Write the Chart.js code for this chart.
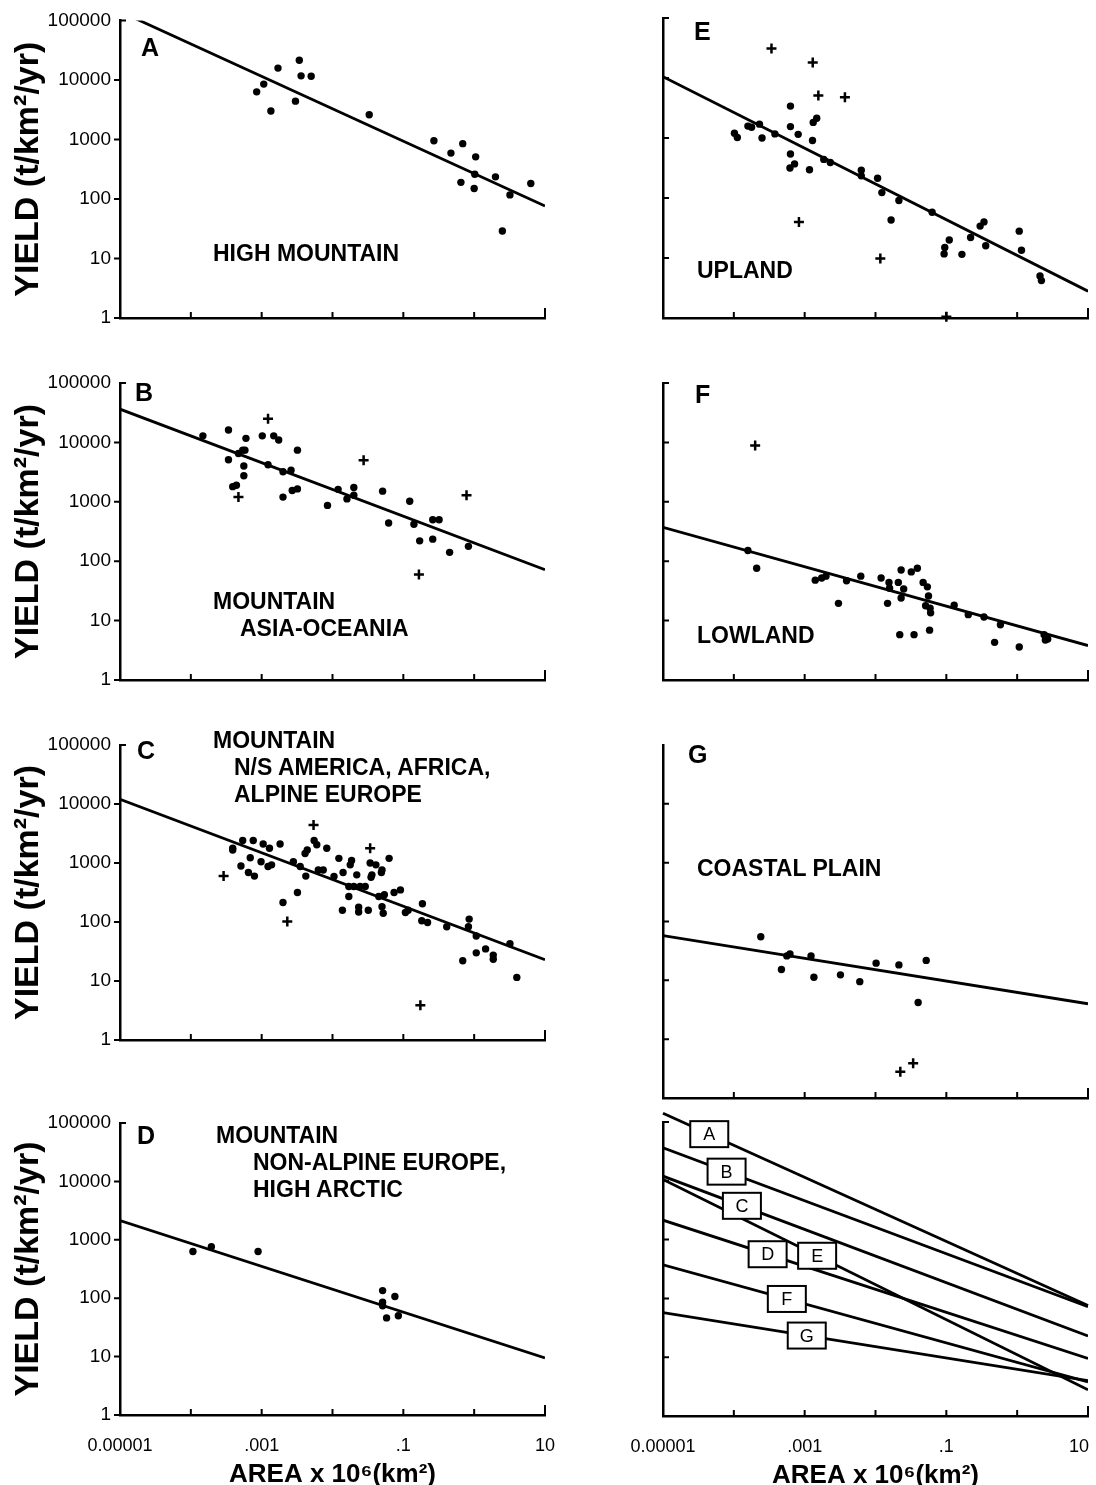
<!DOCTYPE html>
<html>
<head>
<meta charset="utf-8">
<script src="https://cdn.jsdelivr.net/npm/chart.js@4.4.1/dist/chart.umd.min.js"></script>
<style>
body { margin: 0; background: #fff; width: 1096px; height: 1485px; overflow: hidden; position: relative; }
canvas { position: absolute; left: 0; top: 0; }
.t { position: absolute; font-family: "Liberation Sans", Arial, sans-serif; font-weight: bold; font-size: 23px; line-height: 22px; white-space: nowrap; color: #000; }
.k { font-size: 25px; }
</style>
</head>
<body>
<canvas id="cA" width="1160" height="1500"></canvas>
<canvas id="cB" width="1160" height="1500"></canvas>
<canvas id="cC" width="1160" height="1500"></canvas>
<canvas id="cD" width="1160" height="1500"></canvas>
<canvas id="cE" width="1160" height="1500"></canvas>
<canvas id="cF" width="1160" height="1500"></canvas>
<canvas id="cG" width="1160" height="1500"></canvas>
<canvas id="cS" width="1160" height="1500"></canvas>

<div class="t k" style="left:141px;top:36px">A</div>
<div class="t k" style="left:135px;top:381px">B</div>
<div class="t k" style="left:137px;top:739px">C</div>
<div class="t k" style="left:137px;top:1124px">D</div>
<div class="t k" style="left:694px;top:20px">E</div>
<div class="t k" style="left:695px;top:383px">F</div>
<div class="t k" style="left:688px;top:743px">G</div>

<div class="t" style="left:213px;top:242px">HIGH MOUNTAIN</div>
<div class="t" style="left:213px;top:590px">MOUNTAIN</div>
<div class="t" style="left:240px;top:617px">ASIA-OCEANIA</div>
<div class="t" style="left:213px;top:729px">MOUNTAIN</div>
<div class="t" style="left:234px;top:756px">N/S AMERICA, AFRICA,</div>
<div class="t" style="left:234px;top:783px">ALPINE EUROPE</div>
<div class="t" style="left:216px;top:1124px">MOUNTAIN</div>
<div class="t" style="left:253px;top:1151px">NON-ALPINE EUROPE,</div>
<div class="t" style="left:253px;top:1178px">HIGH ARCTIC</div>
<div class="t" style="left:697px;top:259px">UPLAND</div>
<div class="t" style="left:697px;top:624px">LOWLAND</div>
<div class="t" style="left:697px;top:857px">COASTAL PLAIN</div>

<script>
// axis ticks
var areaTicks = [0.00001, 0.0001, 0.001, 0.01, 0.1, 1, 10];
var areaTickLabels = ['0.00001', '', '.001', '', '.1', '', '10'];
// right-hand panel: last label pulled in from the page edge
var areaTickLabelsRight = ['0.00001', '', '.001', '', '.1', '', '10\u2002\u2002'];
var yieldTicks = [1, 10, 100, 1000, 10000, 100000];
var yieldTickLabels = ['1', '10', '100', '1000', '10000', '100000'];
var yieldTicksG = [0.1, 1, 10, 100, 1000, 10000, 100000];

// fitted lines: yield at area 0.00001 and at area 10
var lineNames = ['A', 'B', 'C', 'D', 'E', 'F', 'G'];
var lineStart = [141000, 36300, 12000, 2140, 10500, 372, 57.5];
var lineEnd = [76, 72, 23, 9.5, 2.8, 3.8, 4];
// where the letter boxes sit on the summary lines
var boxArea = [0.000045, 0.000079, 0.00013, 0.0003, 0.0015, 0.00056, 0.00107];

// A high mountain
var aDotArea = [0.00085, 0.00107, 0.00135, 0.0017, 0.0034, 0.0036, 0.005, 0.003, 0.033, 0.27, 0.47, 0.69, 1.05, 1.02, 0.65, 1.0, 2.0, 3.2, 6.3, 2.5];
var aDotYield = [6300, 8500, 3000, 15800, 21400, 11700, 11500, 4400, 2600, 950, 590, 850, 510, 260, 190, 150, 235, 117, 182, 29];

// B mountain asia-oceania
var bDotArea = [0.000148, 0.00034, 0.00034, 0.00047, 0.00054, 0.00058, 0.0006, 0.00056, 0.00056, 0.00039, 0.00044, 0.00102, 0.00148, 0.00174, 0.0032, 0.00123, 0.002, 0.0026, 0.002, 0.0027, 0.0032, 0.0085, 0.012, 0.016, 0.02, 0.02, 0.051, 0.062, 0.123, 0.141, 0.17, 0.26, 0.32, 0.26, 0.45, 0.83];
var bDotYield = [12900, 16200, 5100, 6500, 7400, 7400, 11700, 4000, 2750, 1800, 1900, 12900, 12900, 11000, 7400, 4200, 3200, 3400, 1200, 1550, 1650, 870, 1620, 1120, 1290, 1740, 1510, 440, 1020, 420, 220, 500, 500, 235, 141, 178];
var bCrossArea = [0.00123, 0.00047, 0.0275, 0.78, 0.166];
var bCrossYield = [25000, 1200, 5000, 1290, 60];

// C mountain americas, africa, alpine europe
var cDotArea = [0.00039, 0.00039, 0.00054, 0.00076, 0.00105, 0.00129, 0.00182, 0.00051, 0.00069, 0.00098, 0.00123, 0.00138, 0.00065, 0.00079, 0.002, 0.0032, 0.0028, 0.0035, 0.0042, 0.0041, 0.0044, 0.0055, 0.006, 0.0083, 0.0063, 0.0074, 0.0105, 0.0123, 0.0141, 0.0178, 0.0186, 0.022, 0.017, 0.02, 0.0245, 0.029, 0.017, 0.0138, 0.0234, 0.0234, 0.032, 0.034, 0.041, 0.036, 0.035, 0.05, 0.049, 0.063, 0.045, 0.054, 0.05, 0.052, 0.074, 0.091, 0.107, 0.117, 0.186, 0.182, 0.22, 0.41, 0.85, 0.83, 1.07, 0.69, 1.07, 1.45, 1.86, 1.86, 3.2, 4.0];
var cDotYield = [1780, 1660, 2400, 2400, 2100, 1780, 2100, 890, 1230, 1050, 870, 930, 690, 600, 214, 316, 1050, 870, 600, 1450, 1660, 2400, 2040, 1780, 760, 760, 590, 1200, 690, 930, 1100, 630, 400, 400, 400, 400, 270, 158, 178, 148, 158, 1000, 930, 630, 575, 760, 690, 1200, 270, 290, 182, 141, 316, 350, 145, 158, 204, 105, 98, 83, 112, 83, 58, 22, 30, 35, 27.5, 23.4, 43, 11.5];
var cCrossArea = [0.0054, 0.00029, 0.034, 0.0023, 0.174];
var cCrossYield = [4400, 600, 1780, 102, 3.9];

// D mountain non-alpine europe, high arctic
var dDotArea = [0.000107, 0.000195, 0.00089, 0.051, 0.076, 0.051, 0.051, 0.058, 0.085];
var dDotYield = [630, 760, 630, 135, 107, 74, 85, 46, 50];

// E upland
var eDotArea = [0.000102, 0.000112, 0.000158, 0.000178, 0.00023, 0.00025, 0.00038, 0.00063, 0.00063, 0.00081, 0.00063, 0.00062, 0.00072, 0.00117, 0.00129, 0.00132, 0.00148, 0.00186, 0.0023, 0.0063, 0.0063, 0.0107, 0.0123, 0.0214, 0.0166, 0.063, 0.095, 0.11, 0.093, 0.166, 0.22, 0.30, 0.34, 0.36, 1.07, 1.15, 2.1, 2.2];
var eDotYield = [1200, 1020, 1580, 1510, 1700, 1000, 1170, 3400, 1550, 1150, 540, 316, 370, 295, 910, 1820, 2140, 440, 390, 290, 234, 214, 123, 91, 43, 58, 15, 20, 11.7, 11.5, 22, 34, 40, 16, 28, 13.5, 5.0, 4.2];
var eCrossArea = [0.00034, 0.0013, 0.00156, 0.0037, 0.00083, 0.0117, 0.1];
var eCrossYield = [31000, 18200, 5100, 4800, 40, 9.8, 1.05];

// F lowland
var fDotArea = [0.000158, 0.00021, 0.00141, 0.00174, 0.002, 0.003, 0.0039, 0.0062, 0.012, 0.0155, 0.0158, 0.0148, 0.021, 0.023, 0.025, 0.023, 0.032, 0.039, 0.047, 0.054, 0.056, 0.051, 0.059, 0.06, 0.022, 0.035, 0.058, 0.129, 0.204, 0.34, 0.58, 0.48, 1.07, 2.4, 2.5, 2.7];
var fDotYield = [151, 76, 48, 52, 56, 19.5, 47, 56, 52, 44, 35, 19.5, 44, 71, 34, 24, 66, 76, 44, 37, 26, 17.8, 16.2, 13.5, 5.8, 5.8, 6.9, 18.2, 12.6, 11.5, 8.5, 4.3, 3.6, 5.8, 4.7, 4.9];
var fCrossArea = [0.0002];
var fCrossYield = [8900];

// G coastal plain
var gDotArea = [0.00024, 0.00047, 0.00056, 0.00062, 0.00123, 0.00135, 0.0032, 0.006, 0.0102, 0.0214, 0.052, 0.04];
var gDotYield = [55, 15.3, 26, 28, 26, 11.3, 12.4, 9.5, 19.6, 18.3, 21.8, 4.2];
var gCrossArea = [0.0224, 0.034];
var gCrossYield = [0.28, 0.39];

var W = 1160, H = 1500;
var FONT = '"Liberation Sans", Arial, Helvetica, sans-serif';
Chart.defaults.font.family = FONT;
Chart.defaults.color = '#000';
Chart.defaults.animation = false;

function pts(xs, ys) {
    return xs.map(function (x, i) { return {x: x, y: ys[i]}; });
}
function dots(xs, ys) {
    return {data: pts(xs, ys), pointStyle: 'circle', pointRadius: 3.7, backgroundColor: '#000', borderWidth: 0, clip: false};
}
function crosses(xs, ys) {
    return {data: pts(xs, ys), pointStyle: 'cross', pointRadius: 5, borderColor: '#000', borderWidth: 2.5, clip: false};
}
function fit(i, noClip) {
    var ds = {
        data: [{x: 0.00001, y: lineStart[i]}, {x: 10, y: lineEnd[i]}],
        showLine: true, pointRadius: 0, borderColor: '#000', borderWidth: 2.8
    };
    if (noClip) ds.clip = false;
    return ds;
}

// short tick marks on the axes (left panels: y ticks outside, others inside)
var tickMarks = {
    id: 'tickMarks',
    afterDraw: function (chart, args, opts) {
        var ctx = chart.ctx, a = chart.chartArea;
        var xs = chart.scales.x, ys = chart.scales.y;
        ctx.save();
        ctx.strokeStyle = '#000';
        ctx.lineWidth = 2;
        ctx.beginPath();
        xs.ticks.forEach(function (t) {
            var px = xs.getPixelForValue(t.value);
            ctx.moveTo(px, a.bottom);
            ctx.lineTo(px, a.bottom - (t.value === 10 ? 10 : 6));
        });
        ys.ticks.forEach(function (t) {
            var py = ys.getPixelForValue(t.value);
            var dir = (opts.outside && t.value !== ys.max) ? -1 : 1;
            ctx.moveTo(a.left, py);
            ctx.lineTo(a.left + dir * 6, py);
        });
        ctx.stroke();
        ctx.restore();
    }
};

// lettered boxes on the summary lines
var lineLabels = {
    id: 'lineLabels',
    afterDraw: function (chart) {
        var ctx = chart.ctx, xs = chart.scales.x, ys = chart.scales.y;
        ctx.save();
        ctx.font = '18px ' + FONT;
        ctx.textAlign = 'center';
        ctx.textBaseline = 'middle';
        lineNames.forEach(function (name, i) {
            var f = (Math.log10(boxArea[i]) + 5) / 6;
            var ly = Math.log10(lineStart[i]) + f * (Math.log10(lineEnd[i]) - Math.log10(lineStart[i]));
            var px = xs.getPixelForValue(boxArea[i]);
            var py = ys.getPixelForValue(Math.pow(10, ly));
            ctx.fillStyle = '#fff';
            ctx.fillRect(px - 19, py - 13, 38, 26);
            ctx.strokeStyle = '#000';
            ctx.lineWidth = 2;
            ctx.strokeRect(px - 19, py - 13, 38, 26);
            ctx.fillStyle = '#000';
            ctx.fillText(name, px, py + 1);
        });
        ctx.restore();
    }
};

// area = [left, top, right, bottom] of the plot in page pixels
function panel(id, area, datasets, o) {
    var yw = o.left ? area[0] - 4 : 4;
    var xh = o.bottom ? 82 : 3;
    var yt = o.yTicks || yieldTicks;
    var xl = o.left ? areaTickLabels : areaTickLabelsRight;
    return new Chart(document.getElementById(id), {
        type: 'scatter',
        data: {datasets: datasets},
        options: {
            responsive: false,
            devicePixelRatio: 1,
            events: [],
            layout: {padding: {left: area[0] - yw, top: area[1], right: W - area[2], bottom: H - area[3] - xh}},
            plugins: {
                legend: {display: false},
                tooltip: {enabled: false},
                tickMarks: {outside: !!o.left}
            },
            scales: {
                x: {
                    type: 'logarithmic',
                    min: 0.00001,
                    max: 10,
                    afterBuildTicks: function (s) { s.ticks = areaTicks.map(function (v) { return {value: v}; }); },
                    afterFit: function (s) { s.height = xh; },
                    grid: {display: false, drawTicks: false},
                    border: {color: '#000', width: 2.5},
                    ticks: {
                        display: !!o.bottom, autoSkip: false, maxRotation: 0, padding: 20,
                        font: {size: 18},
                        callback: function (v, i) { return xl[i]; }
                    },
                    title: {
                        display: !!o.bottom, text: 'AREA x 10\u2076(km\u00b2)',
                        font: {size: 26, weight: 'bold'}, padding: {top: 0, bottom: 7}
                    }
                },
                y: {
                    type: 'logarithmic',
                    min: yt[0],
                    max: 100000,
                    afterBuildTicks: function (s) { s.ticks = yt.map(function (v) { return {value: v}; }); },
                    afterFit: function (s) { s.width = yw; },
                    grid: {display: false, drawTicks: false},
                    border: {color: '#000', width: 2.5},
                    ticks: {
                        display: !!o.left, autoSkip: false, padding: 9,
                        font: {size: 19},
                        callback: function (v, i) { return yieldTickLabels[i]; }
                    },
                    title: {
                        display: !!o.left, text: 'YIELD (t/km\u00b2/yr)',
                        font: {size: 34, weight: 'bold'}, padding: {top: 4, bottom: 0}
                    }
                }
            }
        },
        plugins: [tickMarks].concat(o.extra || [])
    });
}

panel('cA', [120, 18, 545, 318], [fit(0), dots(aDotArea, aDotYield)], {left: true});
panel('cB', [120, 383, 545, 680], [fit(1), dots(bDotArea, bDotYield), crosses(bCrossArea, bCrossYield)], {left: true});
panel('cC', [120, 745, 545, 1040], [fit(2), dots(cDotArea, cDotYield), crosses(cCrossArea, cCrossYield)], {left: true});
panel('cD', [120, 1123, 545, 1415], [fit(3), dots(dDotArea, dDotYield)], {left: true, bottom: true});
panel('cE', [663, 18, 1088, 318], [fit(4), dots(eDotArea, eDotYield), crosses(eCrossArea, eCrossYield)], {});
panel('cF', [663, 383, 1088, 680], [fit(5), dots(fDotArea, fDotYield), crosses(fCrossArea, fCrossYield)], {});
panel('cG', [663, 745, 1088, 1098], [fit(6), dots(gDotArea, gDotYield), crosses(gCrossArea, gCrossYield)], {yTicks: yieldTicksG});
panel('cS', [663, 1122, 1088, 1416], lineNames.map(function (n, i) { return fit(i, i === 0); }), {bottom: true, extra: [lineLabels]});
</script>
</body>
</html>
